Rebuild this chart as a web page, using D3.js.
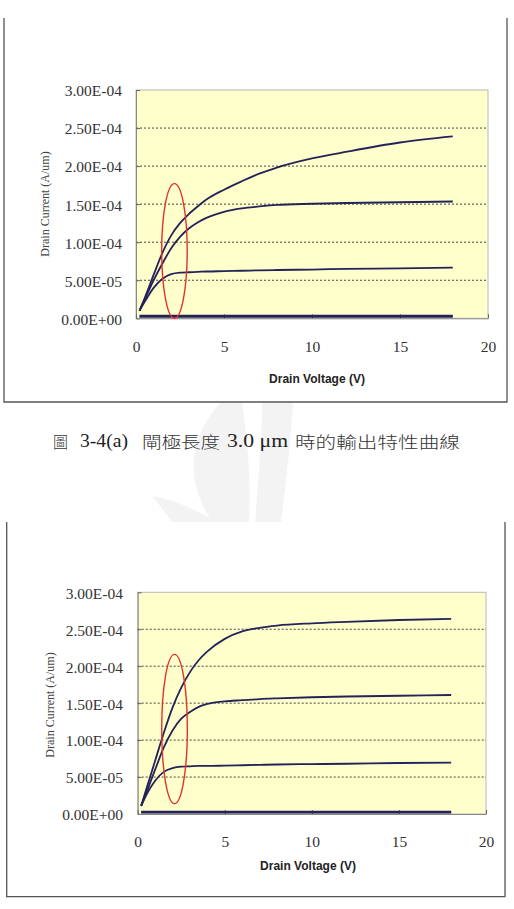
<!DOCTYPE html>
<html><head><meta charset="utf-8">
<script src="https://cdn.jsdelivr.net/npm/d3@7"></script>
<style>body{margin:0;background:#fff}svg{display:block}</style>
</head><body>
<svg id="c" width="514" height="909"></svg>
<script>
// ---- data (Drain Voltage in V, Drain Current in A/um) ----
const drainVoltage = [0.2, 0.5, 1, 1.5, 2, 2.5, 3, 3.5, 4, 5, 6, 7, 8, 10, 12, 15, 18];

// Figure (a): gate length 3.0 um
const a_curve1 = [1.0e-5, 2.7e-5, 5.7e-5, 8.6e-5, 1.09e-4, 1.25e-4, 1.37e-4, 1.47e-4, 1.56e-4, 1.69e-4, 1.80e-4, 1.90e-4, 1.98e-4, 2.10e-4, 2.19e-4, 2.31e-4, 2.39e-4];
const a_curve2 = [1.0e-5, 2.5e-5, 5.0e-5, 7.2e-5, 9.2e-5, 1.07e-4, 1.18e-4, 1.26e-4, 1.32e-4, 1.40e-4, 1.445e-4, 1.47e-4, 1.49e-4, 1.505e-4, 1.515e-4, 1.525e-4, 1.535e-4];
const a_curve3 = [1.0e-5, 2.2e-5, 4.0e-5, 5.2e-5, 5.8e-5, 6.0e-5, 6.05e-5, 6.1e-5, 6.15e-5, 6.2e-5, 6.25e-5, 6.3e-5, 6.35e-5, 6.4e-5, 6.5e-5, 6.55e-5, 6.65e-5];
const a_curve4 = [2e-6, 2e-6, 2e-6, 2e-6, 2e-6, 2e-6, 2e-6, 2e-6, 2e-6, 2e-6, 2e-6, 2e-6, 2e-6, 2e-6, 2e-6, 2e-6, 2e-6];
const a_curve5 = [3.5e-6, 3.5e-6, 3.5e-6, 3.5e-6, 3.5e-6, 3.5e-6, 3.5e-6, 3.5e-6, 3.5e-6, 3.5e-6, 3.5e-6, 3.5e-6, 3.5e-6, 3.5e-6, 3.5e-6, 3.5e-6, 3.5e-6];
const a_ellipse = [1.46, 2.91, 0, 1.77e-4]; // vMin, vMax, iMin, iMax

// Figure (b)
const b_curve1 = [1.1e-5, 3.4e-5, 7.2e-5, 1.10e-4, 1.44e-4, 1.71e-4, 1.92e-4, 2.08e-4, 2.20e-4, 2.37e-4, 2.47e-4, 2.52e-4, 2.55e-4, 2.58e-4, 2.60e-4, 2.625e-4, 2.64e-4];
const b_curve2 = [1.1e-5, 2.9e-5, 6.0e-5, 9.0e-5, 1.13e-4, 1.29e-4, 1.38e-4, 1.45e-4, 1.49e-4, 1.525e-4, 1.54e-4, 1.555e-4, 1.565e-4, 1.58e-4, 1.59e-4, 1.60e-4, 1.61e-4];
const b_curve3 = [1.1e-5, 2.6e-5, 4.5e-5, 5.7e-5, 6.2e-5, 6.4e-5, 6.45e-5, 6.5e-5, 6.5e-5, 6.55e-5, 6.6e-5, 6.65e-5, 6.7e-5, 6.75e-5, 6.8e-5, 6.9e-5, 6.95e-5];
const b_curve4 = [2e-6, 2e-6, 2e-6, 2e-6, 2e-6, 2e-6, 2e-6, 2e-6, 2e-6, 2e-6, 2e-6, 2e-6, 2e-6, 2e-6, 2e-6, 2e-6, 2e-6];
const b_curve5 = [3e-6, 3e-6, 3e-6, 3e-6, 3e-6, 3e-6, 3e-6, 3e-6, 3e-6, 3e-6, 3e-6, 3e-6, 3e-6, 3e-6, 3e-6, 3e-6, 3e-6];
const b_ellipse = [1.38, 2.85, 1.4e-5, 2.16e-4];

const xTicks = [0, 5, 10, 15, 20];
const yTicks = [0, 5e-5, 1e-4, 1.5e-4, 2e-4, 2.5e-4, 3e-4];
const xTitle = "Drain Voltage (V)";
const yTitle = "Drain Current (A/um)";
const caption = ["圖", "3-4(a)", "閘極長度", "3.0 μm", "時的輸出特性曲線"];

// ---- drawing ----
const svg = d3.select("#c");
svg.append("rect").attr("width", 514).attr("height", 909).attr("fill", "#fff");

// faint watermark leaves
const wm = svg.append("g").attr("fill", "#f3f3f3");
wm.append("path").attr("d", "M152,496 Q180,500 216,522 L172,522 Q162,508 152,496 Z");
wm.append("path").attr("d", "M220,403 L242,403 C249,450 251,490 249,522 L212,522 C192,490 180,450 220,403 Z");
wm.append("path").attr("d", "M262,403 L293,403 C290,450 285,490 281,522 L255,522 C258,480 262,440 262,403 Z");

function expFmt(v) {
  const [m, e] = v.toExponential(2).split("e");
  const sign = e[0];
  const digits = e.slice(1).padStart(2, "0");
  return m + "E" + sign + digits;
}

function drawChart(cfg, series, ell) {
  const g = svg.append("g");
  const f = cfg.frame;
  g.append("rect").attr("x", f.x0).attr("y", f.y0).attr("width", f.x1 - f.x0).attr("height", f.y1 - f.y0).attr("fill", "#fff");
  g.append("path").attr("d", `M${f.x0},${f.y0}V${f.y1}H${f.x1}V${f.y0}`).attr("fill", "none").attr("stroke", "#555").attr("stroke-width", 1.3);

  const p = cfg.plot;
  const x = d3.scaleLinear().domain([0, 20]).range([p.x0, p.x1]);
  const y = d3.scaleLinear().domain([0, 3e-4]).range([p.y1, p.y0]);

  g.append("rect").attr("x", p.x0).attr("y", p.y0).attr("width", p.x1 - p.x0).attr("height", p.y1 - p.y0)
    .attr("fill", "#ffffcc").attr("stroke", "#b8b8b8").attr("stroke-width", 1);

  // gridlines
  g.append("g").selectAll("line").data(yTicks.filter(t => t > 0 && t < 3e-4)).join("line")
    .attr("x1", p.x0).attr("x2", p.x1).attr("y1", d => y(d)).attr("y2", d => y(d))
    .attr("stroke", "#444").attr("stroke-width", 1).attr("stroke-dasharray", "2,2");

  // axes
  const ya = g.append("g").attr("transform", `translate(${p.x0},0)`)
    .call(d3.axisLeft(y).tickValues(yTicks).tickFormat(expFmt).tickSizeInner(-4).tickSizeOuter(0).tickPadding(cfg.yPad));
  ya.select(".domain").attr("stroke", "#888");
  ya.selectAll(".tick line").attr("stroke", "#666");
  ya.selectAll(".tick text").attr("font-family", "'Liberation Serif', 'Times New Roman', serif")
    .attr("font-size", 15.5).attr("fill", "#333").attr("dy", "0.38em");

  const xa = g.append("g").attr("transform", `translate(0,${p.y1})`)
    .call(d3.axisBottom(x).tickValues(xTicks).tickSizeInner(-4).tickSizeOuter(0));
  xa.select(".domain").attr("stroke", "#888");
  xa.selectAll(".tick line").attr("stroke", "#666");
  xa.selectAll(".tick text").attr("font-family", "'Liberation Serif', 'Times New Roman', serif")
    .attr("font-size", 15.5).attr("fill", "#333").attr("y", cfg.xTickY - p.y1).attr("dy", "0.35em");

  // titles
  g.append("text").attr("transform", `translate(${cfg.yTitle.x},${cfg.yTitle.y}) rotate(-90)`)
    .attr("text-anchor", "middle").attr("dominant-baseline", "central")
    .attr("font-family", "'Liberation Serif', 'Times New Roman', serif").attr("font-size", 12).attr("fill", "#444")
    .text(yTitle);
  g.append("text").attr("x", cfg.xTitle.x).attr("y", cfg.xTitle.y)
    .attr("text-anchor", "middle").attr("dominant-baseline", "central")
    .attr("font-family", "'Liberation Sans', Arial, sans-serif").attr("font-size", 12).attr("font-weight", "bold").attr("fill", "#222")
    .text(xTitle);

  // curves
  const line = d3.line().x((d, i) => x(drainVoltage[i])).y(d => y(d)).curve(d3.curveMonotoneX);
  series.forEach((s, k) => {
    g.append("path").attr("d", line(s)).attr("fill", "none")
      .attr("stroke", "#23235a").attr("stroke-width", k >= 3 ? 2 : 1.8).attr("stroke-linejoin", "round");
  });

  // red ellipse annotation
  const [v0, v1, i0, i1] = ell;
  g.append("ellipse").attr("cx", (x(v0) + x(v1)) / 2).attr("cy", (y(i0) + y(i1)) / 2)
    .attr("rx", (x(v1) - x(v0)) / 2).attr("ry", (y(i0) - y(i1)) / 2)
    .attr("fill", "none").attr("stroke", "#e8302a").attr("stroke-width", 1.4);
}

drawChart({
  frame: {x0: 4, x1: 507, y0: 18, y1: 402},
  plot: {x0: 136, x1: 488, y0: 90, y1: 318.3},
  yPad: 14, xTickY: 347, yTitle: {x: 45, y: 204}, xTitle: {x: 317, y: 379}
}, [a_curve1, a_curve2, a_curve3, a_curve4, a_curve5], a_ellipse);

drawChart({
  frame: {x0: 6.7, x1: 505, y0: 522, y1: 896.7},
  plot: {x0: 137.7, x1: 486, y0: 592.3, y1: 814},
  yPad: 14.7, xTickY: 842, yTitle: {x: 50, y: 705}, xTitle: {x: 308, y: 866}
}, [b_curve1, b_curve2, b_curve3, b_curve4, b_curve5], b_ellipse);

// caption
const capSpec = [
  {t: caption[0], x0: 53, x1: 68, cjk: true},
  {t: caption[1], x0: 80, x1: 128, cjk: false},
  {t: caption[2], x0: 142, x1: 220, cjk: true},
  {t: caption[3], x0: 227, x1: 288, cjk: false},
  {t: caption[4], x0: 295, x1: 460, cjk: true}
];
capSpec.forEach(c => {
  svg.append("text").attr("x", c.x0).attr("y", 441).attr("dominant-baseline", "central")
    .attr("font-family", c.cjk ? "'Noto Sans CJK TC', sans-serif" : "'Liberation Serif', 'Times New Roman', serif")
    .attr("font-size", c.cjk ? 16 : 18).attr("font-weight", c.cjk ? 300 : 400).attr("fill", c.cjk ? "#333" : "#222")
    .attr("textLength", c.x1 - c.x0).attr("lengthAdjust", "spacingAndGlyphs")
    .text(c.t);
});
</script>
</body></html>
